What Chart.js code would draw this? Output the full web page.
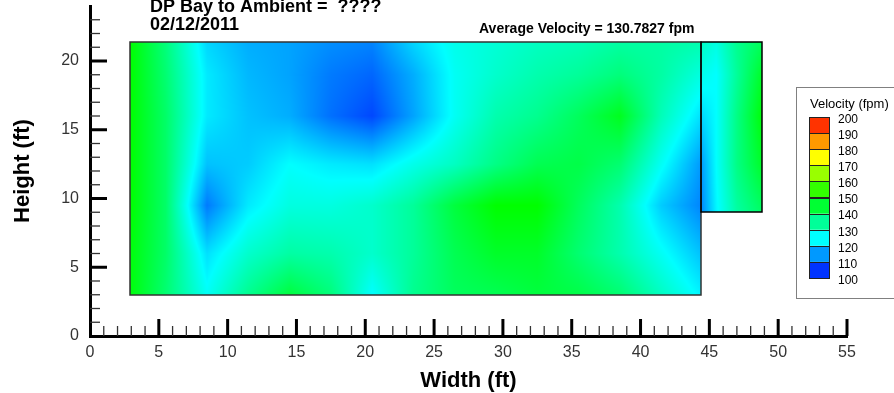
<!DOCTYPE html>
<html lang="en-US">
<head>
<meta charset="UTF-8">
<title>Velocity Contour - Bay</title>
<script src="https://cdn.jsdelivr.net/npm/chart.js@4.4.1/dist/chart.umd.min.js"></script>
<style>
  html, body { margin: 0; padding: 0; background: #fff; }
</style>
</head>
<body>
<canvas id="chart" width="894" height="393"></canvas>
<script>
// measurement grid of the bay opening (ft), velocities in fpm, rows from bottom to top
var gridX = [2.9, 5.5, 8.5, 11.5, 14.5, 17.5, 20.5, 23.5, 26.5, 29.5, 32.5, 35.5, 38.5, 41.5, 44.4];
var gridY = [3, 6, 9.5, 12.5, 16, 19, 21.4];
var velocity = [
  [149, 139, 126, 136, 144, 138, 125, 136, 141, 142, 144, 143, 139, 131, 124],
  [149, 140, 122, 130, 134, 133, 130, 135, 142, 146, 146, 139, 133, 126, 119],
  [150, 140, 112, 123, 128, 128, 130, 135, 144, 150, 150, 141, 133, 120, 113],
  [150, 140, 119, 120, 125, 123, 122, 127, 131, 137, 142, 143, 139, 126, 115],
  [150, 140, 123, 119, 117, 111, 107, 116, 126, 133, 136, 141, 147, 132, 122],
  [150, 139, 123, 118, 116, 112, 110, 117, 126, 130, 133, 135, 138, 134, 128],
  [150, 138, 121, 117, 116, 114, 113, 121, 127, 129, 131, 132, 134, 134, 133]
];

// upper right side panel
var panelX = [44.4, 45.5, 47, 48.8];
var panelY = [9, 12.5, 16, 19, 21.4];
var panelVelocity = [
  [113, 124, 134, 140],
  [115, 125, 137, 146],
  [121, 125, 137, 149],
  [127, 125, 135, 146],
  [131, 128, 136, 141]
];

var levels = [100, 110, 120, 130, 140, 150, 160, 170, 180, 190, 200];
var xTicks = { min: 0, max: 55, major: 5 };
var yTicks = { min: 0, max: 24, major: 5 };

var FONT = '"Liberation Sans", Arial, sans-serif';

function rainbow(v) {
  var lo = levels[0], hi = levels[levels.length - 1];
  var t = Math.max(0, Math.min(1, (v - lo) / (hi - lo))) * 4;
  if (t < 1) return [0, 255 * t, 255];
  if (t < 2) return [0, 255, 255 * (2 - t)];
  if (t < 3) return [255 * (t - 2), 255, 0];
  return [255, 255 * (4 - t), 0];
}

function locate(nodes, v) {
  var i = 0;
  while (i < nodes.length - 2 && v > nodes[i + 1]) i++;
  var f = (v - nodes[i]) / (nodes[i + 1] - nodes[i]);
  return [i, Math.max(0, Math.min(1, f))];
}

function sample(xs, ys, rows, x, y) {
  var a = locate(xs, x), b = locate(ys, y);
  var i = a[0], fx = a[1], j = b[0], fy = b[1];
  var bot = rows[j][i] * (1 - fx) + rows[j][i + 1] * fx;
  var top = rows[j + 1][i] * (1 - fx) + rows[j + 1][i + 1] * fx;
  return bot * (1 - fy) + top * fy;
}

var zones = [
  { x: gridX, y: gridY, v: velocity, edge: '#333' },
  { x: panelX, y: panelY, v: panelVelocity, edge: '#000' }
];

// flood the zones pixel by pixel through the chart scales
var fieldPlugin = {
  id: 'field',
  beforeDatasetsDraw: function (chart) {
    var sx = chart.scales.x, sy = chart.scales.y, ctx = chart.ctx;
    zones.forEach(function (z) {
      var left = Math.round(sx.getPixelForValue(z.x[0]));
      var right = Math.round(sx.getPixelForValue(z.x[z.x.length - 1]));
      var top = Math.round(sy.getPixelForValue(z.y[z.y.length - 1]));
      var bottom = Math.round(sy.getPixelForValue(z.y[0]));
      var w = right - left, h = bottom - top;
      var off = document.createElement('canvas');
      off.width = w; off.height = h;
      var octx = off.getContext('2d');
      var img = octx.createImageData(w, h);
      for (var py = 0; py < h; py++) {
        var fy = sy.getValueForPixel(top + py + 0.5);
        for (var px = 0; px < w; px++) {
          var fx = sx.getValueForPixel(left + px + 0.5);
          var c = rainbow(sample(z.x, z.y, z.v, fx, fy));
          var k = (py * w + px) * 4;
          img.data[k] = c[0]; img.data[k + 1] = c[1]; img.data[k + 2] = c[2]; img.data[k + 3] = 255;
        }
      }
      octx.putImageData(img, 0, 0);
      ctx.drawImage(off, left, top);
      z.box = [left, top, w, h];
    });
    zones.forEach(function (z) {
      ctx.save();
      ctx.strokeStyle = z.edge;
      ctx.lineWidth = 1.5;
      ctx.strokeRect(z.box[0], z.box[1], z.box[2], z.box[3]);
      ctx.restore();
    });
  }
};

// inward tick marks, long every 5 ft
var tickPlugin = {
  id: 'ticks',
  afterDraw: function (chart) {
    var ctx = chart.ctx, sx = chart.scales.x, sy = chart.scales.y;
    var x0 = chart.chartArea.left, y0 = chart.chartArea.bottom;
    ctx.save();
    sx.ticks.forEach(function (t) {
      if (t.value === xTicks.min) return;
      var major = t.value % xTicks.major === 0;
      var p = sx.getPixelForValue(t.value);
      ctx.beginPath();
      ctx.lineWidth = major ? 3 : 1.3;
      ctx.strokeStyle = major ? '#000' : '#333';
      ctx.moveTo(p, y0);
      ctx.lineTo(p, y0 - (major ? 17 : 10));
      ctx.stroke();
    });
    sy.ticks.forEach(function (t) {
      if (t.value === yTicks.min || t.value >= yTicks.max) return;
      var major = t.value % yTicks.major === 0;
      var p = sy.getPixelForValue(t.value);
      ctx.beginPath();
      ctx.lineWidth = major ? 3 : 1.3;
      ctx.strokeStyle = major ? '#000' : '#333';
      ctx.moveTo(x0, p);
      ctx.lineTo(x0 + (major ? 17 : 10), p);
      ctx.stroke();
    });
    ctx.restore();
  }
};

// header texts and the contour legend
var textPlugin = {
  id: 'texts',
  afterDraw: function (chart) {
    var ctx = chart.ctx;
    ctx.save();
    ctx.fillStyle = '#000';
    ctx.textBaseline = 'alphabetic';
    ctx.textAlign = 'left';
    ctx.font = 'bold 18px ' + FONT;
    ctx.fillText('DP Bay to Ambient =  ????', 150, 11.5);
    ctx.fillText('02/12/2011', 150, 30);
    ctx.font = 'bold 14px ' + FONT;
    ctx.fillText('Average Velocity = 130.7827 fpm', 479, 32.5);

    // legend
    ctx.strokeStyle = '#808080';
    ctx.lineWidth = 1;
    ctx.fillStyle = '#fff';
    ctx.fillRect(796.5, 87.5, 110, 211);
    ctx.strokeRect(796.5, 87.5, 110, 211);
    ctx.fillStyle = '#000';
    ctx.textBaseline = 'middle';
    ctx.font = '13px ' + FONT;
    ctx.fillText('Velocity (fpm)', 810, 104);

    var barL = 809, barW = 20, barTop = 117, barBot = 278;
    var n = levels.length - 1, bh = (barBot - barTop) / n;
    for (var k = 0; k < n; k++) {
      var c = rainbow((levels[k] + levels[k + 1]) / 2);
      var yTop = barBot - (k + 1) * bh;
      ctx.fillStyle = 'rgb(' + Math.round(c[0]) + ',' + Math.round(c[1]) + ',' + Math.round(c[2]) + ')';
      ctx.fillRect(barL, yTop, barW, bh);
      ctx.strokeStyle = '#222';
      ctx.strokeRect(barL + 0.5, Math.round(yTop) + 0.5, barW, Math.round(bh));
    }
    ctx.fillStyle = '#000';
    ctx.font = '12px ' + FONT;
    levels.forEach(function (lv, k) {
      ctx.fillText(String(lv), 838, barBot - k * bh + 2.5);
    });
    ctx.restore();
  }
};

function noEdgePadding(s) {
  s.paddingTop = 0;
  s.paddingBottom = 0;
}

var ctx = document.getElementById('chart').getContext('2d');
var chart = new Chart(ctx, {
  type: 'scatter',
  data: { datasets: [] },
  options: {
    responsive: false,
    animation: false,
    layout: { padding: { top: 6, right: 47, left: 0, bottom: 0 } },
    plugins: { legend: { display: false }, tooltip: { enabled: false } },
    scales: {
      x: {
        type: 'linear',
        min: xTicks.min,
        max: xTicks.max,
        afterFit: function (s) { s.height = 57; },
        grid: { display: false, drawTicks: false },
        border: { display: true, color: '#000', width: 3 },
        ticks: {
          stepSize: 1, autoSkip: false, maxRotation: 0, padding: 7,
          color: '#333', font: { family: FONT, size: 16 },
          callback: function (v) { return v % xTicks.major === 0 ? String(v) : ''; }
        },
        title: {
          display: true, text: 'Width (ft)', color: '#000',
          font: { family: FONT, size: 22, weight: 'bold', lineHeight: 1 },
          padding: { top: 0, bottom: 1 }
        }
      },
      y: {
        type: 'linear',
        min: yTicks.min,
        max: yTicks.max,
        afterFit: function (s) { s.width = 90; noEdgePadding(s); },
        grid: { display: false, drawTicks: false },
        border: { display: true, color: '#000', width: 3 },
        ticks: {
          stepSize: 1, autoSkip: false, padding: 11,
          color: '#333', font: { family: FONT, size: 16 },
          callback: function (v) { return (v % yTicks.major === 0 && v < yTicks.max) ? String(v) : ''; }
        },
        title: {
          display: true, text: 'Height (ft)', color: '#000',
          font: { family: FONT, size: 22, weight: 'bold', lineHeight: 1 },
          padding: { top: 12, bottom: 0 }
        }
      }
    }
  },
  plugins: [fieldPlugin, tickPlugin, textPlugin]
});
</script>
</body>
</html>
